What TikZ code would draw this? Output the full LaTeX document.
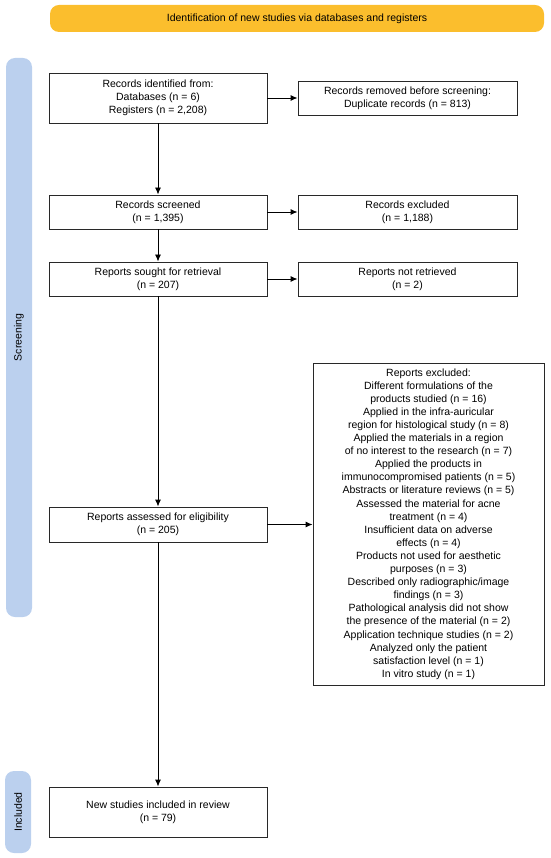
\documentclass[tikz,border=0pt]{standalone}
\usepackage{fontspec}
\setmainfont{Liberation Sans}
\usetikzlibrary{arrows.meta}
\definecolor{bannerorange}{RGB}{251,190,45}
\definecolor{phaseblue}{RGB}{187,208,238}
\definecolor{boxline}{RGB}{40,40,40}
\begin{document}
\begin{tikzpicture}[x=1pt,y=-1pt,
  every node/.style={font=\fontsize{10.5}{13.1}\selectfont, text=black},
  flowbox/.style={draw=boxline, line width=0.9pt, fill=white, align=center, inner sep=0pt},
  leftbox/.style={flowbox, minimum width=218pt},
  rightbox/.style={flowbox, minimum width=219pt},
  phasebar/.style={fill=phaseblue, rounded corners=9pt, draw=none},
  flowarrow/.style={draw=black, line width=0.9pt, -{Latex[length=7pt,width=6pt]}}]
\useasboundingbox (0,0) rectangle (550,858);
% banner
\node[fill=bannerorange, rounded corners=9pt, minimum width=494pt, minimum height=27pt, inner sep=0pt] (banner) at (297,18.5) {Identification of new studies via databases and registers};
% phase bars
\node[phasebar, minimum width=26pt, minimum height=559pt, inner sep=0pt] (screenbar) at (19,337.5) {};
\node[rotate=90] (screenlabel) at (screenbar.center) {Screening};
\node[phasebar, minimum width=26pt, minimum height=82pt, inner sep=0pt] (inclbar) at (18,812) {};
\node[rotate=90] (incllabel) at (inclbar.center) {Included};
% boxes
\node[leftbox, minimum height=50pt] (ident) at (158,98) {Records identified from:\\Databases (n = 6)\\Registers (n = 2,208)};
\node[rightbox, minimum height=34pt] (removed) at (407.5,98) {Records removed before screening:\\Duplicate records (n = 813)};
\node[leftbox, minimum height=34pt] (screened) at (158,212) {Records screened\\(n = 1,395)};
\node[rightbox, minimum height=34pt] (excluded) at (407.5,212) {Records excluded\\(n = 1,188)};
\node[leftbox, minimum height=34pt] (sought) at (158,279) {Reports sought for retrieval\\(n = 207)};
\node[rightbox, minimum height=34pt] (notretr) at (407.5,279) {Reports not retrieved\\(n = 2)};
\node[leftbox, minimum height=35pt] (assessed) at (158,524.5) {Reports assessed for eligibility\\(n = 205)};
\node[flowbox, minimum width=231pt, minimum height=322pt] (repexcl) at (428.5,524) {Reports excluded:\\Different formulations of the\\products studied (n = 16)\\Applied in the infra-auricular\\region for histological study (n = 8)\\Applied the materials in a region\\of no interest to the research (n = 7)\\Applied the products in\\immunocompromised patients (n = 5)\\Abstracts or literature reviews (n = 5)\\Assessed the material for acne\\treatment (n = 4)\\Insufficient data on adverse\\effects (n = 4)\\Products not used for aesthetic\\purposes (n = 3)\\Described only radiographic/image\\findings (n = 3)\\Pathological analysis did not show\\the presence of the material (n = 2)\\Application technique studies (n = 2)\\Analyzed only the patient\\satisfaction level (n = 1)\\In vitro study (n = 1)};
\node[leftbox, minimum height=50pt] (included) at (158,812) {New studies included in review\\(n = 79)};
% arrows
\draw[flowarrow] (ident) -- (removed);
\draw[flowarrow] (ident) -- (screened);
\draw[flowarrow] (screened) -- (excluded);
\draw[flowarrow] (screened) -- (sought);
\draw[flowarrow] (sought) -- (notretr);
\draw[flowarrow] (sought) -- (assessed);
\draw[flowarrow] (assessed.east) -- (assessed.east -| repexcl.west);
\draw[flowarrow] (assessed) -- (included);
\end{tikzpicture}
\end{document}
